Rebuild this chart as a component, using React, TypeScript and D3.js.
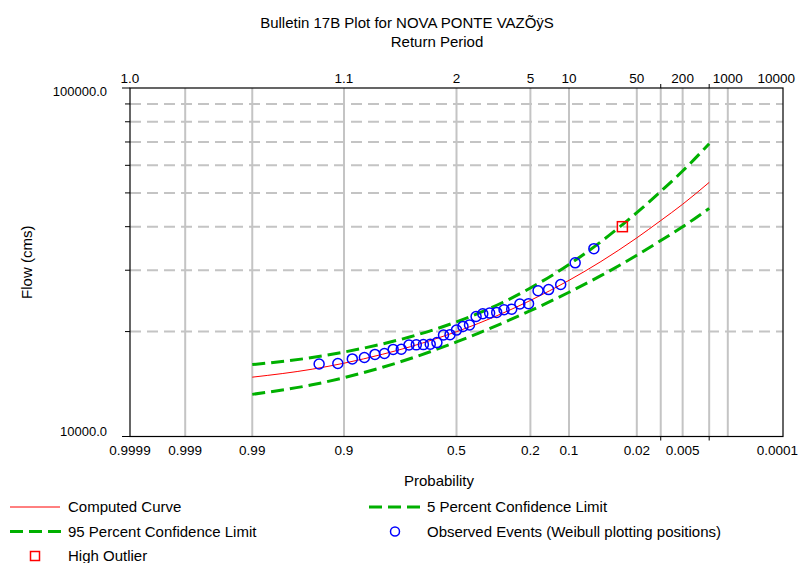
import React from "react";
import * as d3 from "d3";

// ---------- text ----------
const TITLE = "Bulletin 17B Plot for NOVA PONTE VAZÕÿS";
const TOP_TITLE = "Return Period";
const X_TITLE = "Probability";
const Y_TITLE = "Flow (cms)";

// ---------- curves (exceedance probability -> flow, cms) ----------
const curveProbs = [0.99, 0.95, 0.9, 0.8, 0.7, 0.6, 0.5, 0.4, 0.3, 0.2, 0.1, 0.05, 0.02, 0.01, 0.005, 0.002];
const computedFlows = [14800, 15600, 16230, 17220, 18100, 19010, 19990, 21130, 22570, 24570, 28060, 31770, 37150, 41650, 46390, 53600];
const upper5Flows = [16080, 16850, 17470, 18440, 19330, 20270, 21320, 22580, 24240, 26670, 31170, 36220, 43890, 50510, 57770, 69200];
const lower95Flows = [13210, 14070, 14750, 15800, 16740, 17680, 18680, 19800, 21160, 22960, 25940, 28940, 33110, 36490, 39970, 45140];

// ---------- observed events (ranked, Weibull plotting positions m/(n+1)) ----------
const recordLength = 33;
const outlierRanks = [1];
const outlierFlows = [40000];
const observedRanks = [2, 3, 4, 5, 6, 7, 8, 9, 10, 11, 12, 13, 14, 15, 16, 17, 18, 19, 20, 21, 22, 23, 24, 25, 26, 27, 28, 29, 30, 31, 32];
const observedFlows = [34600, 31500, 27300, 26400, 26200, 24050, 24000, 23200, 23100, 22700, 22600, 22500, 22100, 20900, 20700, 20200, 19600, 19550, 18600, 18400, 18350, 18320, 18300, 17800, 17780, 17300, 17200, 16850, 16700, 16200, 16150];

// ---------- axes ----------
const bottomTickProbs = [0.9999, 0.999, 0.99, 0.9, 0.5, 0.2, 0.1, 0.02, 0.005, 0.0001];
const bottomTickLabels = ["0.9999", "0.999", "0.99", "0.9", "0.5", "0.2", "0.1", "0.02", "0.005", "0.0001"];
const gridProbs = [0.999, 0.99, 0.9, 0.5, 0.2, 0.1, 0.02, 0.01, 0.005, 0.002, 0.001];
const minorTickProbs = [0.01, 0.002];
const topTickProbs = [0.9999, 0.9, 0.5, 0.2, 0.1, 0.02, 0.005, 0.001, 0.0001];
const topTickLabels = ["1.0", "1.1", "2", "5", "10", "50", "200", "1000", "10000"];
const flowDomain = [10000, 100000];
const flowGrid = [20000, 30000, 40000, 50000, 60000, 70000, 80000, 90000];
const flowLabels = ["10000.0", "100000.0"];

// ---------- legend ----------
const legendItems = [
  { label: "Computed Curve", kind: "red" },
  { label: "5 Percent Confidence Limit", kind: "green" },
  { label: "95 Percent Confidence Limit", kind: "green" },
  { label: "Observed Events (Weibull plotting positions)", kind: "circle" },
  { label: "High Outlier", kind: "square" },
];

// inverse standard normal CDF (Acklam)
function probit(p: number): number {
  const a = [-3.969683028665376e1, 2.209460984245205e2, -2.759285104469687e2, 1.38357751867269e2, -3.066479806614716e1, 2.506628277459239];
  const b = [-5.447609879822406e1, 1.615858368580409e2, -1.556989798598866e2, 6.680131188771972e1, -1.328068155288572e1];
  const c = [-7.784894002430293e-3, -3.223964580411365e-1, -2.400758277161838, -2.549732539343734, 4.374664141464968, 2.938163982698783];
  const d = [7.784695709041462e-3, 3.224671290700398e-1, 2.445134137142996, 3.754408661907416];
  const pl = 0.02425;
  let q: number, r: number;
  if (p < pl) {
    q = Math.sqrt(-2 * Math.log(p));
    return (((((c[0] * q + c[1]) * q + c[2]) * q + c[3]) * q + c[4]) * q + c[5]) / ((((d[0] * q + d[1]) * q + d[2]) * q + d[3]) * q + 1);
  }
  if (p <= 1 - pl) {
    q = p - 0.5;
    r = q * q;
    return ((((((a[0] * r + a[1]) * r + a[2]) * r + a[3]) * r + a[4]) * r + a[5]) * q) / (((((b[0] * r + b[1]) * r + b[2]) * r + b[3]) * r + b[4]) * r + 1);
  }
  q = Math.sqrt(-2 * Math.log(1 - p));
  return -(((((c[0] * q + c[1]) * q + c[2]) * q + c[3]) * q + c[4]) * q + c[5]) / ((((d[0] * q + d[1]) * q + d[2]) * q + d[3]) * q + 1);
}

const W = 801;
const H = 563;
const X0 = 130;
const X1 = 783;
const Y0 = 436.5;
const Y1 = 88;
const FONT = "'Liberation Sans', Arial, sans-serif";
const GREEN = "#00b000";
const GRID = "#c4c4c4";
const TICK_FS = 13.5;

export default function App() {
  // exceedance probability -> standard normal variate (upper tail)
  const zScale = d3.scaleLinear().domain([probit(1 - 0.9999), probit(1 - 0.0001)]).range([X0, X1]);
  const x = (p: number) => zScale(probit(1 - p));
  const y = d3.scaleLog().domain(flowDomain).range([Y0, Y1]);

  const line = d3
    .line<[number, number]>()
    .x((d) => x(d[0]))
    .y((d) => y(d[1]))
    .curve(d3.curveMonotoneX);

  const mk = (flows: number[]) => curveProbs.map((p, i) => [p, flows[i]] as [number, number]);

  const obs = observedRanks.map((m, i) => ({ p: m / (recordLength + 1), q: observedFlows[i] }));
  const outl = outlierRanks.map((m, i) => ({ p: m / (recordLength + 1), q: outlierFlows[i] }));

  const legendPos = [
    { x: 10, y: 507 },
    { x: 369, y: 507 },
    { x: 10, y: 531.5 },
    { x: 369, y: 531.5 },
    { x: 10, y: 556 },
  ];

  const labelAnchor = (last: boolean) => (last ? "end" : "middle");

  return (
    <svg width={W} height={H} style={{ position: "absolute", left: 0, top: 0, background: "#fff" }} fontFamily={FONT}>
      <rect x={0} y={0} width={W} height={H} fill="#fff" />
      {/* titles */}
      <text x={407} y={28} fontSize={15} textAnchor="middle" fill="#000">{TITLE}</text>
      <text x={437} y={47} fontSize={15} textAnchor="middle" fill="#000">{TOP_TITLE}</text>
      <text x={439} y={486} fontSize={15} textAnchor="middle" fill="#000">{X_TITLE}</text>
      <text transform={`translate(32,${(Y0 + Y1) / 2}) rotate(-90)`} fontSize={15} textAnchor="middle" fill="#000">{Y_TITLE}</text>

      {/* horizontal grid */}
      {flowGrid.map((f) => (
        <line key={"h" + f} x1={X0} x2={X1} y1={y(f)} y2={y(f)} stroke={GRID} strokeWidth={2} strokeDasharray="11,6" />
      ))}
      {/* vertical grid */}
      {gridProbs.map((p) => (
        <line key={"v" + p} x1={x(p)} x2={x(p)} y1={Y1} y2={Y0} stroke={GRID} strokeWidth={2} />
      ))}

      {/* left ticks */}
      {flowGrid.map((f) => (
        <line key={"lt" + f} x1={X0 - 5} x2={X0} y1={y(f)} y2={y(f)} stroke="#000" strokeWidth={1} />
      ))}
      {flowDomain.map((f) => (
        <line key={"LT" + f} x1={X0 - 8} x2={X0} y1={y(f)} y2={y(f)} stroke="#000" strokeWidth={1} />
      ))}
      {/* minor top/bottom ticks */}
      {minorTickProbs.map((p) => (
        <g key={"mt" + p}>
          <line x1={x(p)} x2={x(p)} y1={Y1 - 4} y2={Y1} stroke="#000" strokeWidth={1} />
          <line x1={x(p)} x2={x(p)} y1={Y0} y2={Y0 + 4} stroke="#000" strokeWidth={1} />
        </g>
      ))}

      {/* frame */}
      <rect x={X0} y={Y1} width={X1 - X0} height={Y0 - Y1} fill="none" stroke="#000" strokeWidth={1.2} />

      {/* y labels */}
      <text x={107} y={436} fontSize={13} textAnchor="end" fill="#000">{flowLabels[0]}</text>
      <text x={107} y={95.5} fontSize={13} textAnchor="end" fill="#000">{flowLabels[1]}</text>

      {/* bottom labels */}
      {bottomTickProbs.map((p, i) => {
        const last = i === bottomTickProbs.length - 1;
        return (
          <text key={"bl" + p} x={last ? 798 : x(p)} y={455} fontSize={TICK_FS} textAnchor={labelAnchor(last)} fill="#000">{bottomTickLabels[i]}</text>
        );
      })}
      {/* top labels */}
      {topTickProbs.map((p, i) => {
        const last = i === topTickProbs.length - 1;
        return (
          <text key={"tl" + p} x={last ? 795 : x(p)} y={83} fontSize={TICK_FS} textAnchor={labelAnchor(last)} fill="#000">{topTickLabels[i]}</text>
        );
      })}

      {/* curves */}
      <path d={line(mk(upper5Flows)) || ""} fill="none" stroke={GREEN} strokeWidth={3} strokeDasharray="13,6" />
      <path d={line(mk(lower95Flows)) || ""} fill="none" stroke={GREEN} strokeWidth={3} strokeDasharray="13,6" />
      <path d={line(mk(computedFlows)) || ""} fill="none" stroke="#ff0000" strokeWidth={1} />

      {/* observed */}
      {obs.map((d, i) => (
        <circle key={"o" + i} cx={x(d.p)} cy={y(d.q)} r={5} fill="none" stroke="#0000ff" strokeWidth={1.5} />
      ))}
      {outl.map((d, i) => (
        <rect key={"u" + i} x={x(d.p) - 5} y={y(d.q) - 5} width={10} height={10} fill="none" stroke="#ff0000" strokeWidth={1.5} />
      ))}

      {/* legend */}
      {legendItems.map((it, i) => {
        const pos = legendPos[i];
        const tx = pos.x + 58;
        return (
          <g key={"lg" + i}>
            {it.kind === "red" && <line x1={pos.x} x2={pos.x + 50} y1={pos.y} y2={pos.y} stroke="#ff0000" strokeWidth={1} />}
            {it.kind === "green" && (
              <line x1={pos.x} x2={pos.x + 51} y1={pos.y} y2={pos.y} stroke={GREEN} strokeWidth={3} strokeDasharray="13,6" />
            )}
            {it.kind === "circle" && <circle cx={pos.x + 26} cy={pos.y} r={4.5} fill="none" stroke="#0000ff" strokeWidth={1.5} />}
            {it.kind === "square" && (
              <rect x={pos.x + 20.5} y={pos.y - 4.5} width={9} height={9} fill="none" stroke="#ff0000" strokeWidth={1.5} />
            )}
            <text x={tx} y={pos.y + 5} fontSize={15} fill="#000">{it.label}</text>
          </g>
        );
      })}
    </svg>
  );
}
